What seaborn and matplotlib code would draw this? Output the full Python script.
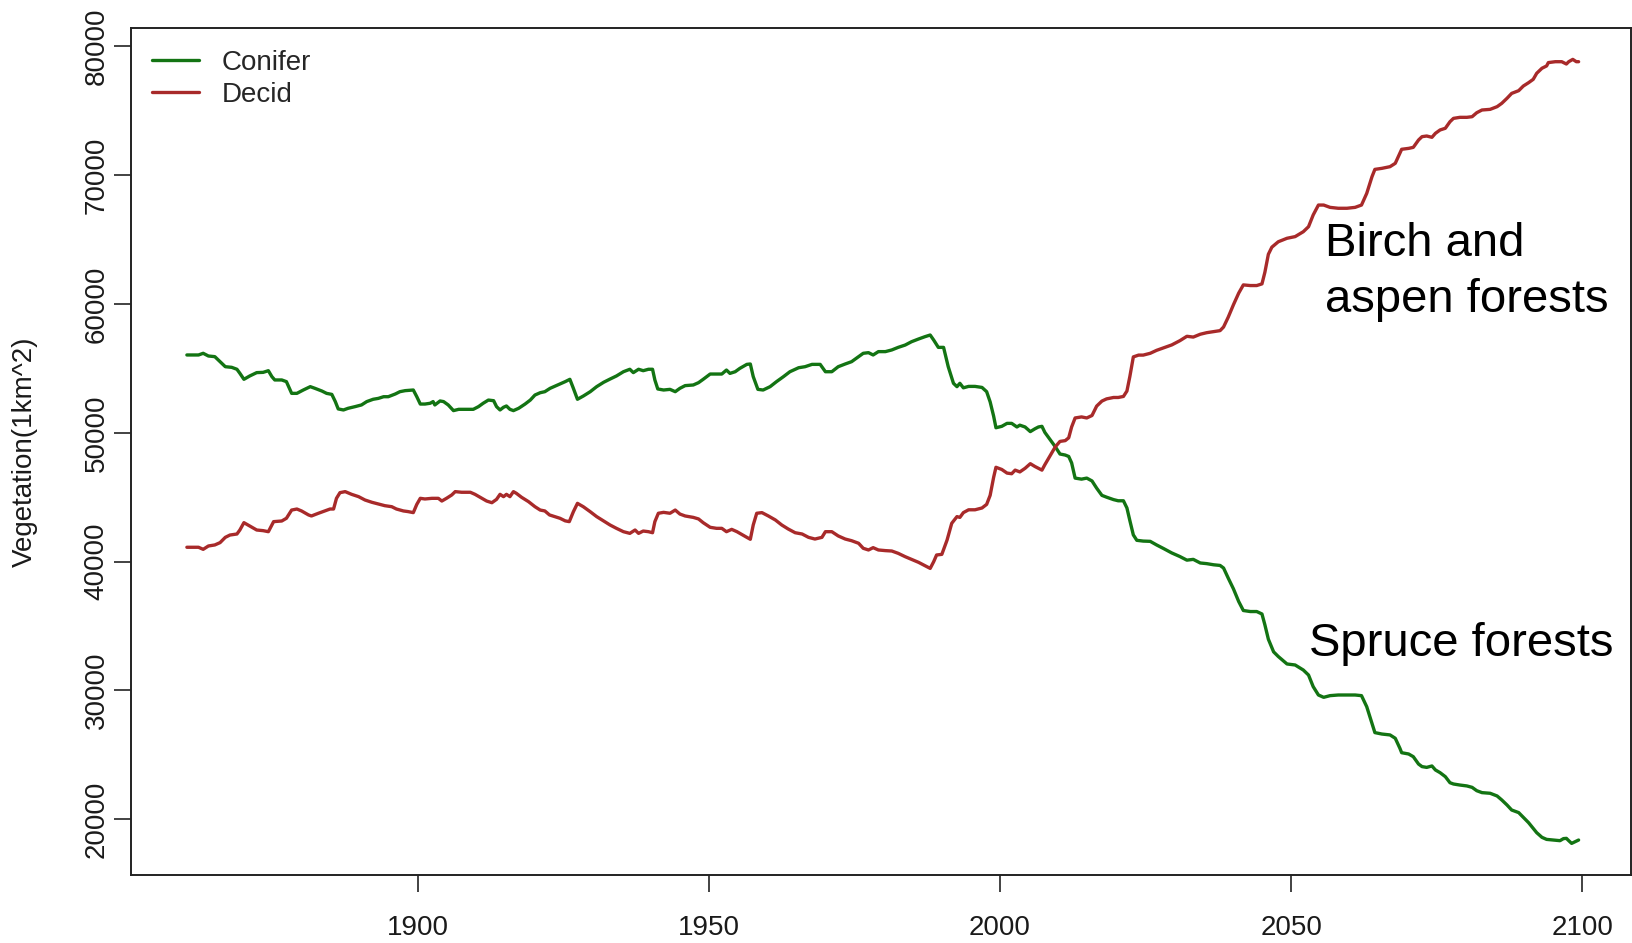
import matplotlib
matplotlib.use("Agg")
import matplotlib.pyplot as plt
import seaborn as sns
import pandas as pd

# ---------------- data ----------------
conifer_years = [
    1860.3, 1862.3, 1863.1, 1864.0, 1865.1, 1866.0, 1866.9, 1868.0, 1868.9, 1869.4,
    1870.1, 1871.1, 1872.3, 1873.4, 1874.3, 1874.9, 1875.4, 1876.6, 1877.4, 1878.3,
    1879.2, 1880.3, 1881.5, 1882.3, 1883.5, 1884.3, 1885.2, 1885.8, 1886.3, 1887.2,
    1888.0, 1889.2, 1890.3, 1891.2, 1892.3, 1893.2, 1894.1, 1894.9, 1896.1, 1896.9,
    1897.8, 1899.2, 1899.8, 1900.4, 1901.2, 1902.1, 1902.6, 1902.9, 1903.8, 1904.4,
    1905.2, 1906.1, 1907.0, 1908.1, 1909.5, 1910.4, 1911.2, 1912.1, 1913.0, 1913.5,
    1914.1, 1914.7, 1915.2, 1915.8, 1916.4, 1917.3, 1918.4, 1919.3, 1920.1, 1921.0,
    1921.8, 1922.7, 1923.6, 1924.4, 1925.3, 1926.1, 1926.7, 1927.4, 1928.4, 1929.6,
    1930.7, 1931.9, 1933.0, 1934.1, 1935.3, 1936.4, 1937.0, 1937.9, 1938.7, 1939.6,
    1940.3, 1940.7, 1941.2, 1942.2, 1943.3, 1944.2, 1945.0, 1945.9, 1947.3, 1948.2,
    1949.0, 1950.2, 1951.3, 1952.2, 1953.0, 1953.6, 1954.5, 1955.3, 1956.5, 1957.1,
    1957.6, 1958.4, 1959.3, 1960.5, 1961.6, 1962.8, 1963.9, 1965.4, 1966.5, 1967.7,
    1969.1, 1970.0, 1971.1, 1972.2, 1973.4, 1974.5, 1975.7, 1976.5, 1977.4, 1978.2,
    1979.1, 1980.3, 1981.4, 1982.5, 1983.7, 1984.8, 1986.0, 1987.1, 1988.0, 1988.6,
    1989.4, 1990.3, 1991.1, 1992.0, 1992.6, 1993.1, 1993.7, 1994.6, 1995.7, 1996.9,
    1997.7, 1998.3, 1998.9, 1999.3, 2000.3, 2001.2, 2002.0, 2002.9, 2003.4, 2004.3,
    2005.2, 2006.0, 2006.6, 2007.2, 2007.7, 2008.6, 2009.5, 2010.3, 2011.2, 2011.8,
    2012.3, 2012.9, 2014.0, 2014.9, 2015.8, 2016.6, 2017.5, 2018.3, 2019.5, 2020.3,
    2021.2, 2021.8, 2022.3, 2022.9, 2023.5, 2024.6, 2025.8, 2026.9, 2028.1, 2029.5,
    2030.9, 2032.1, 2033.2, 2034.4, 2035.5, 2036.7, 2037.8, 2038.4, 2039.2, 2040.1,
    2041.0, 2041.8, 2043.0, 2044.1, 2045.0, 2045.5, 2046.1, 2047.0, 2047.8, 2049.3,
    2050.7, 2052.1, 2053.0, 2053.8, 2054.7, 2055.6, 2056.7, 2058.1, 2059.6, 2061.0,
    2062.1, 2063.0, 2063.9, 2064.4, 2065.6, 2067.0, 2067.9, 2068.7, 2069.0, 2070.2,
    2071.0, 2071.9, 2072.5, 2073.3, 2074.2, 2074.8, 2075.6, 2076.5, 2077.3, 2077.9,
    2079.0, 2080.2, 2081.1, 2081.9, 2082.8, 2084.2, 2085.4, 2086.2, 2087.1, 2087.9,
    2089.1, 2089.9, 2090.8, 2091.6, 2092.2, 2093.1, 2093.9, 2095.0, 2096.2, 2096.8,
    2097.3, 2097.7, 2098.2, 2098.8, 2099.4,
]
conifer_values = [
    56050, 56050, 56180, 55970, 55920, 55530, 55140, 55090, 54940, 54630,
    54160, 54420, 54680, 54700, 54830, 54370, 54110, 54110, 53980, 53070,
    53070, 53330, 53590, 53460, 53250, 53070, 52990, 52430, 51860, 51780,
    51910, 52040, 52170, 52430, 52610, 52680, 52810, 52810, 53020, 53200,
    53280, 53330, 52810, 52240, 52240, 52300, 52430, 52170, 52480, 52430,
    52170, 51730, 51830, 51830, 51830, 52040, 52300, 52550, 52500, 52040,
    51780, 51990, 52090, 51830, 51730, 51910, 52240, 52550, 52940, 53120,
    53200, 53460, 53640, 53800, 53980, 54160, 53460, 52610, 52860, 53200,
    53590, 53930, 54180, 54420, 54750, 54940, 54680, 54940, 54830, 54940,
    54940, 54110, 53410, 53330, 53380, 53200, 53460, 53670, 53720, 53900,
    54160, 54570, 54570, 54570, 54880, 54620, 54750, 55010, 55320, 55350,
    54370, 53380, 53330, 53590, 53980, 54370, 54750, 55060, 55140, 55320,
    55320, 54750, 54750, 55140, 55350, 55530, 55920, 56180, 56230, 56050,
    56310, 56310, 56440, 56640, 56820, 57080, 57290, 57470, 57600, 57210,
    56640, 56640, 55140, 53850, 53590, 53850, 53500, 53610, 53610, 53530,
    53200, 52410, 51300, 50400, 50510, 50740, 50740, 50460, 50600, 50460,
    50100, 50320, 50460, 50510, 50040, 49480, 48920, 48360, 48280, 48170,
    47670, 46490, 46410, 46490, 46270, 45710, 45150, 45010, 44820, 44730,
    44730, 44170, 43200, 42080, 41660, 41600, 41580, 41300, 41020, 40680,
    40400, 40120, 40180, 39900, 39850, 39760, 39710, 39510, 38730, 37890,
    36910, 36210, 36130, 36130, 35940, 35100, 33980, 33000, 32640, 32060,
    31980, 31590, 31200, 30300, 29650, 29470, 29600, 29650, 29650, 29650,
    29600, 28740, 27450, 26730, 26620, 26550, 26290, 25510, 25170, 25070,
    24860, 24290, 24090, 24030, 24140, 23830, 23620, 23310, 22840, 22740,
    22660, 22590, 22480, 22220, 22070, 22020, 21810, 21500, 21110, 20720,
    20520, 20150, 19740, 19300, 18960, 18600, 18440, 18390, 18340, 18500,
    18520, 18340, 18130, 18260, 18390,
]

decid_years = [
    1860.3, 1862.3, 1863.1, 1864.0, 1865.1, 1866.0, 1866.9, 1867.7, 1868.9, 1869.4,
    1870.1, 1871.1, 1872.3, 1873.4, 1874.3, 1875.2, 1876.6, 1877.4, 1878.3, 1879.2,
    1880.0, 1881.2, 1881.7, 1882.9, 1884.0, 1884.9, 1885.5, 1886.0, 1886.6, 1887.5,
    1888.6, 1889.8, 1890.9, 1892.1, 1893.2, 1894.3, 1895.5, 1896.3, 1897.5, 1898.3,
    1899.2, 1899.8, 1900.4, 1901.2, 1902.4, 1903.5, 1904.1, 1904.9, 1905.8, 1906.4,
    1907.5, 1909.0, 1909.8, 1910.7, 1911.8, 1912.7, 1913.5, 1914.1, 1914.7, 1915.2,
    1915.8, 1916.4, 1916.9, 1917.8, 1919.0, 1920.1, 1921.0, 1921.8, 1922.6, 1923.5,
    1924.4, 1925.3, 1926.0, 1926.7, 1927.4, 1928.4, 1929.6, 1930.7, 1931.9, 1933.0,
    1934.1, 1935.3, 1936.4, 1937.3, 1937.9, 1938.7, 1939.6, 1940.3, 1940.7, 1941.3,
    1942.2, 1943.3, 1944.2, 1945.0, 1945.9, 1947.3, 1948.2, 1949.0, 1950.2, 1951.3,
    1952.2, 1953.0, 1953.9, 1954.8, 1955.6, 1956.5, 1957.1, 1957.6, 1958.2, 1959.1,
    1960.2, 1961.4, 1962.5, 1963.6, 1964.8, 1966.0, 1967.1, 1968.2, 1969.4, 1970.0,
    1971.1, 1972.2, 1973.4, 1974.5, 1975.7, 1976.5, 1977.4, 1978.2, 1979.1, 1980.3,
    1981.4, 1982.5, 1983.7, 1984.8, 1986.0, 1987.1, 1988.0, 1988.6, 1989.1, 1990.0,
    1990.9, 1991.7, 1992.6, 1993.1, 1993.7, 1994.6, 1995.7, 1996.9, 1997.7, 1998.3,
    1998.9, 1999.3, 2000.3, 2001.2, 2002.0, 2002.6, 2003.4, 2004.3, 2005.2, 2006.0,
    2006.6, 2007.2, 2007.7, 2008.6, 2009.5, 2010.3, 2011.2, 2011.8, 2012.3, 2012.9,
    2014.0, 2014.9, 2015.8, 2016.6, 2017.5, 2018.3, 2019.5, 2020.3, 2021.2, 2021.8,
    2022.3, 2022.9, 2023.8, 2024.6, 2025.8, 2026.9, 2028.1, 2029.5, 2030.9, 2032.1,
    2033.2, 2034.4, 2035.5, 2036.7, 2037.8, 2038.4, 2039.2, 2040.1, 2041.0, 2041.8,
    2043.0, 2044.1, 2045.0, 2045.5, 2046.1, 2046.7, 2047.8, 2049.3, 2050.7, 2052.1,
    2053.0, 2053.8, 2054.7, 2055.6, 2056.7, 2058.1, 2059.6, 2061.0, 2062.1, 2063.0,
    2063.9, 2064.4, 2065.6, 2067.0, 2067.9, 2068.7, 2069.0, 2070.2, 2071.0, 2071.9,
    2072.5, 2073.3, 2074.2, 2074.8, 2075.6, 2076.5, 2077.3, 2077.9, 2079.0, 2080.2,
    2081.1, 2081.9, 2082.8, 2084.2, 2085.4, 2086.2, 2087.1, 2087.9, 2089.1, 2089.9,
    2090.8, 2091.6, 2092.2, 2093.1, 2093.9, 2094.2, 2095.4, 2096.5, 2097.3, 2097.7,
    2098.4, 2099.0, 2099.4,
]
decid_values = [
    41120, 41120, 40960, 41220, 41300, 41480, 41890, 42070, 42150, 42460,
    43030, 42770, 42460, 42410, 42330, 43110, 43160, 43370, 44010, 44090,
    43940, 43630, 43550, 43760, 43940, 44090, 44090, 44920, 45360, 45440,
    45230, 45050, 44790, 44610, 44480, 44350, 44270, 44090, 43940, 43890,
    43810, 44450, 44920, 44870, 44920, 44920, 44710, 44920, 45180, 45440,
    45390, 45390, 45230, 45000, 44710, 44580, 44840, 45230, 45050, 45230,
    45050, 45440, 45310, 45000, 44660, 44270, 44010, 43940, 43630, 43500,
    43370, 43170, 43110, 43880, 44530, 44270, 43880, 43500, 43160, 42850,
    42590, 42330, 42200, 42460, 42200, 42380, 42330, 42250, 43110, 43760,
    43830, 43760, 44010, 43700, 43550, 43440, 43320, 43030, 42670, 42590,
    42590, 42330, 42510, 42330, 42120, 41890, 41740, 42850, 43760, 43810,
    43550, 43240, 42850, 42540, 42250, 42150, 41890, 41760, 41890, 42330,
    42330, 42000, 41760, 41630, 41430, 41040, 40910, 41090, 40910, 40860,
    40830, 40650, 40390, 40180, 39950, 39690, 39480, 40000, 40520, 40570,
    41680, 42980, 43500, 43440, 43810, 44030, 44030, 44170, 44450, 45150,
    46550, 47330, 47160, 46880, 46830, 47110, 46970, 47250, 47610, 47390,
    47250, 47110, 47530, 48220, 48920, 49340, 49400, 49620, 50460, 51160,
    51240, 51160, 51350, 52080, 52470, 52640, 52750, 52750, 52830, 53250,
    54370, 55900, 56040, 56040, 56180, 56410, 56600, 56830, 57160, 57500,
    57440, 57660, 57780, 57860, 57940, 58220, 58980, 59950, 60850, 61490,
    61440, 61440, 61570, 62470, 63870, 64420, 64840, 65110, 65240, 65620,
    66010, 66920, 67690, 67690, 67510, 67440, 67440, 67510, 67690, 68600,
    69890, 70460, 70540, 70670, 70930, 71710, 72020, 72090, 72170, 72740,
    73000, 73050, 72950, 73260, 73520, 73650, 74160, 74420, 74500, 74500,
    74550, 74860, 75070, 75120, 75330, 75590, 75980, 76360, 76570, 76930,
    77190, 77450, 77920, 78310, 78490, 78750, 78820, 78820, 78640, 78820,
    79000, 78820, 78820,
]

series_names = ["Conifer", "Decid"]
series_colors = ["#137413", "#a82a2a"]
x_ticks = [1900, 1950, 2000, 2050, 2100]
y_ticks = [20000, 30000, 40000, 50000, 60000, 70000, 80000]
y_label = "Vegetation(1km^2)"
annot_birch = "Birch and\naspen forests"
annot_spruce = "Spruce forests"

# ---------------- build long-form table ----------------
df = pd.concat([
    pd.DataFrame({"year": conifer_years, "value": conifer_values, "type": series_names[0]}),
    pd.DataFrame({"year": decid_years, "value": decid_values, "type": series_names[1]}),
], ignore_index=True)

sns.set_style("white")
plt.rcParams["font.family"] = ["Liberation Sans", "DejaVu Sans"]

W, H = 1633, 943
fig = plt.figure(figsize=(W / 100, H / 100), dpi=100)
ax_left, ax_right, ax_top, ax_bottom = 131, 1631, 28.3, 875
ax = fig.add_axes([ax_left / W, 1 - ax_bottom / H,
                   (ax_right - ax_left) / W, (ax_bottom - ax_top) / H])

sns.lineplot(data=df, x="year", y="value", hue="type",
             palette=dict(zip(series_names, series_colors)),
             estimator=None, sort=False, linewidth=2.4, ax=ax)

ax.set_xlim(1850.7, 2108.4)
ax.set_ylim(15675, 81413)
ax.set_xticks(x_ticks)
ax.set_xticklabels([str(t) for t in x_ticks])
ax.set_yticks(y_ticks)
ax.set_yticklabels([str(t) for t in y_ticks])
ax.set_xlabel("")
ax.set_ylabel(y_label, fontsize=20, color="#1a1a1a")
ax.yaxis.label.set_verticalalignment("center")
ax.yaxis.set_label_coords((25 - ax_left) / (ax_right - ax_left), 0.5)

for sp in ax.spines.values():
    sp.set_visible(True)
    sp.set_color("#222222")
    sp.set_linewidth(1.4)

ax.tick_params(axis="both", which="major", direction="out", length=12,
               width=1.2, color="#222222", labelsize=20, labelcolor="#1a1a1a",
               left=True, bottom=True)
ax.tick_params(axis="x", pad=16.5)
ax.tick_params(axis="y", pad=3.5, labelrotation=90)
for lab in ax.get_yticklabels():
    lab.set_verticalalignment("center")

handles, labels = ax.get_legend_handles_labels()
ax.legend(handles, labels, loc="upper left",
          bbox_to_anchor=((152 - ax_left) / (ax_right - ax_left), (ax_bottom - 50) / (ax_bottom - ax_top)),
          frameon=False, borderpad=0, borderaxespad=0, handlelength=1.7,
          handletextpad=0.8, labelspacing=0.22, fontsize=20)

ax.text(2055.85, 59390, annot_birch, fontsize=34, color="black",
        ha="left", va="baseline", linespacing=1.34)
ax.text(2053.1, 32680, annot_spruce, fontsize=34, color="black",
        ha="left", va="baseline")

fig.savefig("out.png", dpi=100, facecolor="white")
